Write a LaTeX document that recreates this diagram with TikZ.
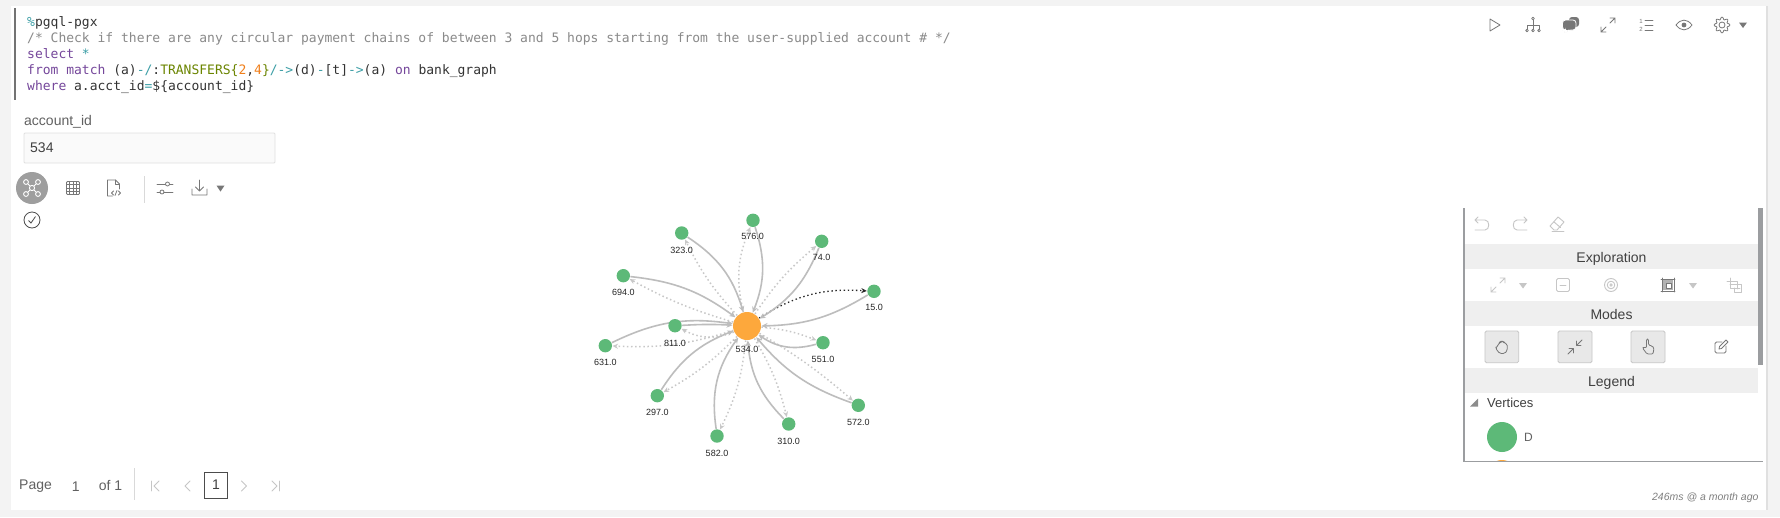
\documentclass[tikz,border=0pt]{standalone}
\usepackage{fontspec}
\setmainfont{Liberation Sans}
\newfontfamily\codefont[Ligatures=NoCommon]{DejaVu Sans Mono}
\usetikzlibrary{arrows.meta}
\usetikzlibrary{positioning}
\definecolor{pagebg}{HTML}{F3F3F3}
\definecolor{codedark}{HTML}{333333}
\definecolor{codegray}{HTML}{8A8A8A}
\definecolor{codepurple}{HTML}{75479B}
\definecolor{codeteal}{HTML}{3B9EA6}
\definecolor{codeolive}{HTML}{6B8500}
\definecolor{codeorange}{HTML}{F07F1B}
\definecolor{vgreen}{HTML}{5DB978}
\definecolor{vorange}{HTML}{FDA83C}
\definecolor{edgegray}{HTML}{BDBDBD}
\definecolor{dotgray}{HTML}{C8C8C8}
\definecolor{stripgray}{HTML}{EFEFEF}
\definecolor{framegray}{HTML}{9B9DA0}
\definecolor{icondark}{HTML}{777777}
\definecolor{iconlight}{HTML}{C6C6C6}
\tikzstyle{codeline} = [anchor=west, inner sep=0pt, font=\codefont\fontsize{13}{16}\selectfont, text=codedark, text height=10pt, text depth=3pt]
\tikzstyle{vertexD} = [circle, fill=vgreen, inner sep=0pt, outer sep=0.5pt, minimum size=13.4pt]
\tikzstyle{vertexA} = [circle, fill=vorange, inner sep=0pt, outer sep=0.5pt, minimum size=28pt]
\tikzstyle{vlabel} = [inner sep=0pt, font=\fontsize{9}{10}\selectfont, text=black!85]
\tikzstyle{edgesolid} = [draw=edgegray, line width=1.6pt, -{Stealth[length=6pt,width=5.5pt]}]
\tikzstyle{edgedot} = [draw=dotgray, line width=1.5pt, dash pattern=on 1.5pt off 2.6pt, -{Stealth[length=5.5pt,width=5pt]}]
\tikzstyle{edgeblack} = [draw=black!85, line width=1.3pt, dash pattern=on 1.4pt off 2.7pt, -{Stealth[length=5.5pt,width=5pt]}]
\tikzstyle{uitext} = [inner sep=0pt, font=\fontsize{14}{16}\selectfont, text=black!75]
\tikzstyle{striptext} = [uitext, text height=10pt, text depth=3pt]
\tikzstyle{graytext} = [inner sep=0pt, font=\fontsize{14}{16}\selectfont, text=black!62]
\tikzstyle{icon} = [draw=icondark, line width=0.8pt, line cap=round, line join=round]
\tikzstyle{iconpale} = [draw=iconlight, line width=0.9pt, line cap=round, line join=round]
\tikzstyle{modebtn} = [draw=iconlight, fill=black!9, rounded corners=1.5pt, line width=0.8pt]
\begin{document}
\begin{tikzpicture}[x=1pt,y=-1pt]
	\useasboundingbox (0,0) rectangle (1780,517);
	\fill[pagebg] (0,0) rectangle (1780,517);
	\fill[black!12] (1766,6) rectangle (1768,510);
	\fill[white] (11,6) rectangle (1766,510);
	\fill[black!55] (14,8) rectangle (15.5,100);

	\node [codeline] (line1) at (27,23) {\textcolor{codeteal}{\%}pgql-pgx};
	\node [codeline, text=codegray] (line2) at (27,39) {/* Check if there are any circular payment chains of between 3 and 5 hops starting from the user-supplied account \# */};
	\node [codeline] (line3) at (27,55) {\textcolor{codepurple}{select} \textcolor{codeteal}{*}};
	\node [codeline] (line4) at (27,71) {\textcolor{codepurple}{from match} (a)\textcolor{codeteal}{-/}:\textcolor{codeolive}{TRANSFERS\{}\textcolor{codeorange}{2},\textcolor{codeorange}{4}\textcolor{codeolive}{\}}\textcolor{codeteal}{/->}(d)\textcolor{codeteal}{-}[t]\textcolor{codeteal}{->}(a) \textcolor{codepurple}{on} bank\_graph};
	\node [codeline] (line5) at (27,87) {\textcolor{codepurple}{where} a.acct\_id\textcolor{codeteal}{=}\$\{account\_id\}};

	\node [graytext, anchor=west] (paramlabel) at (24,122) {account\_id};
	\node [draw=black!12, fill=black!2, line width=0.8pt, rounded corners=1pt, minimum width=251pt, minimum height=30pt, inner sep=0pt, outer sep=0pt] (parambox) at (149.5,148) {};
	\node [uitext, anchor=west] (paramvalue) at (30,148) {534};

	\fill[black!38] (32,188) circle [radius=16];
	\begin{scope}[shift={(32,188)}]
		\draw[white, line width=0.9pt] (-5.5,-5.5) -- (5.5,5.5) (5.5,-5.5) -- (-5.5,5.5);
		\draw[white, line width=0.9pt, fill=black!38] (-6,-6) circle [radius=2.4] (6,-6) circle [radius=2.4] (-6,6) circle [radius=2.4] (6,6) circle [radius=2.4] (0,0) circle [radius=2.6];
	\end{scope}
	\begin{scope}[shift={(73,188)}]
		\draw[icon, rounded corners=1pt] (-6.5,-6.5) rectangle (6.5,6.5);
		\draw[icon] (-3.25,-6.5) -- (-3.25,6.5) (0,-6.5) -- (0,6.5) (3.25,-6.5) -- (3.25,6.5) (-6.5,-3.25) -- (6.5,-3.25) (-6.5,0) -- (6.5,0) (-6.5,3.25) -- (6.5,3.25);
	\end{scope}
	\begin{scope}[shift={(113.5,188)}]
		\draw[icon] (-1,8) -- (-6,8) -- (-6,-8) -- (2,-8) -- (6,-4) -- (6,1);
		\draw[icon] (2,-8) -- (2,-4) -- (6,-4);
		\draw[icon] (0,3) -- (-2,5) -- (0,7) (5,3) -- (7,5) -- (5,7) (3.5,2.5) -- (1.5,7.5);
	\end{scope}
	\draw[black!15, line width=0.8pt] (144,176) -- (144,203);
	\begin{scope}[shift={(165,188)}]
		\draw[icon] (-8,-4) -- (0.5,-4) (4.5,-4) -- (8,-4) (-8,4) -- (-5,4) (-1,4) -- (8,4);
		\draw[icon] (2.5,-4) circle [radius=2] (-3,4) circle [radius=2];
	\end{scope}
	\begin{scope}[shift={(199.5,188)}]
		\draw[icon] (0,-8) -- (0,3) (-4,-1) -- (0,3) -- (4,-1) (-7.5,1) -- (-7.5,7) -- (7.5,7) -- (7.5,1);
	\end{scope}
	\fill[icondark] (216.5,185.5) -- (224.5,185.5) -- (220.5,191.5) -- cycle;
	\begin{scope}[shift={(32,220)}]
		\draw[black!70, line width=0.8pt] (0,0) circle [radius=8];
		\draw[black!70, line width=0.8pt] (-3.5,0.5) -- (-1,3) -- (3.5,-3.5);
	\end{scope}

	\begin{scope}[shift={(1495,25)}]
		\draw[icon] (-5,-6) -- (5,0) -- (-5,6) -- cycle;
	\end{scope}
	\begin{scope}[shift={(1533,25)}]
		\draw[icon] (0,-5) -- (0,4) (-6,4) -- (-6,0) -- (6,0) -- (6,4);
		\draw[icon] (0,-6.5) circle [radius=1.4] (-6,5.5) circle [radius=1.3] (0,5.5) circle [radius=1.3] (6,5.5) circle [radius=1.3];
	\end{scope}
	\begin{scope}[shift={(1571,25)}]
		\fill[icondark, rounded corners=3pt] (-2,-8) -- (8,-8) -- (8,2) -- (-2,2) -- cycle;
		\draw[white, fill=icondark, line width=0.8pt, rounded corners=3pt] (-8.5,-5) -- (5,-5) -- (5,5) -- (-3,5) -- (-6,8) -- (-5.5,5) -- (-8.5,5) -- cycle;
	\end{scope}
	\begin{scope}[shift={(1608,25)}]
		\draw[icon] (-7,7) -- (-2,2) (2,-2) -- (7,-7) (2,-7) -- (7,-7) -- (7,-2) (-7,2) -- (-7,7) -- (-2,7);
	\end{scope}
	\begin{scope}[shift={(1646,25)}]
		\draw[icon] (-1,-5) -- (7,-5) (-1,0) -- (7,0) (-1,5) -- (7,5);
		\node [inner sep=0pt, font=\fontsize{6}{6}\selectfont, text=icondark] (listone) at (-5,-4) {1};
		\node [inner sep=0pt, font=\fontsize{6}{6}\selectfont, text=icondark] (listtwo) at (-5,4) {2};
	\end{scope}
	\begin{scope}[shift={(1684,25)}]
		\draw[icon] (-8,0) .. controls (-3,-6.5) and (3,-6.5) .. (8,0) .. controls (3,6.5) and (-3,6.5) .. (-8,0) -- cycle;
		\fill[icondark] (0,0) circle [radius=2.4];
	\end{scope}
	\begin{scope}[shift={(1722,25)}]
		\draw[icon] plot[domain=0:360, samples=65, smooth] (\x:{6.7+1.2*cos(8*\x)}) -- cycle;
		\draw[icon] (0,0) circle [radius=3];
	\end{scope}
	\fill[icondark] (1739,22.5) -- (1747,22.5) -- (1743,28) -- cycle;

	\fill[framegray] (1463,208) rectangle (1465,462);
	\fill[framegray] (1463,460.5) rectangle (1763,462);
	\fill[framegray] (1758,208) rectangle (1763,365);
	\fill[stripgray] (1465,244) rectangle (1758,269);
	\fill[stripgray] (1465,301) rectangle (1758,325.7);
	\fill[stripgray] (1465,368) rectangle (1758,392.7);
	\node [striptext] (exploration) at (1611.5,258.7) {Exploration};
	\node [striptext] (modes) at (1611.5,315.5) {Modes};
	\node [striptext] (legend) at (1611.5,382.5) {Legend};

	\begin{scope}[shift={(1482,224)}]
		\draw[iconpale] (-4,-7) -- (-7,-4) -- (-4,-1) (-7,-4) -- (3,-4) .. controls (8,-4) and (8,6) .. (3,6) -- (-7,6);
	\end{scope}
	\begin{scope}[shift={(1520,224)}]
		\draw[iconpale] (4,-7) -- (7,-4) -- (4,-1) (7,-4) -- (-3,-4) .. controls (-8,-4) and (-8,6) .. (-3,6) -- (7,6);
	\end{scope}
	\begin{scope}[shift={(1557,224)}]
		\draw[iconpale] (-7,2) -- (1,-7) -- (7,-2) -- (0,6) -- (-3,6) -- cycle (-3,-2) -- (3.5,3.5) (-5,7.5) -- (7,7.5);
	\end{scope}

	\begin{scope}[shift={(1498,285)}]
		\draw[iconpale] (-7,7) -- (-2,2) (2,-2) -- (7,-7) (2,-7) -- (7,-7) -- (7,-2) (-7,2) -- (-7,7) -- (-2,7);
	\end{scope}
	\fill[iconlight] (1519,283) -- (1527,283) -- (1523,288.5) -- cycle;
	\begin{scope}[shift={(1563,285)}]
		\draw[iconpale, rounded corners=1.5pt] (-6.5,-6.5) rectangle (6.5,6.5);
		\draw[iconpale] (-3,0) -- (3,0);
	\end{scope}
	\begin{scope}[shift={(1611,285)}]
		\draw[iconpale] (0,0) circle [radius=6.5] (0,0) circle [radius=3.8] (0,0) circle [radius=1.2];
	\end{scope}
	\begin{scope}[shift={(1668,285)}]
		\fill[black!30] (-5,-5) rectangle (5,5);
		\draw[icon] (-7,-6) -- (7,-6) (-7,6) -- (7,6) (-6,-7) -- (-6,7) (6,-7) -- (6,7);
		\draw[icon, fill=white] (-2,-2) rectangle (3,3);
	\end{scope}
	\fill[iconlight] (1689,283) -- (1697,283) -- (1693,288.5) -- cycle;
	\begin{scope}[shift={(1734,285)}]
		\draw[iconpale] (-7,-4) -- (3,-4) -- (3,4) (-4,-7) -- (-4,3) -- (6,3) (-4,-1) -- (7,-1) -- (7,7) -- (0,7) -- (0,3);
	\end{scope}

	\draw[modebtn] (1485,331) rectangle (1518.7,362.7);
	\draw[modebtn] (1558,331) rectangle (1592,362.7);
	\draw[modebtn] (1631,331) rectangle (1665,362.7);
	\begin{scope}[shift={(1501.7,347.5)}]
		\draw[icon, rounded corners=1.5pt] (-5.5,-1) -- (-3,-2) -- (-3,-5) -- (-1,-5) -- (-0.5,-6.5) -- (2,-6) -- (2.5,-4.5) -- (5.5,-3.5) -- (5.5,3) -- (3,6) -- (-2,6) -- (-6,1) -- cycle;
	\end{scope}
	\begin{scope}[shift={(1575,347)}]
		\draw[icon] (2,-2) -- (7,-7) (1.5,-6) -- (1.5,-1.5) -- (6,-1.5) (-2,2) -- (-7,7) (-6,1.5) -- (-1.5,1.5) -- (-1.5,6);
	\end{scope}
	\begin{scope}[shift={(1648,347)}]
		\draw[icon, rounded corners=1.2pt] (-1.5,1) -- (-1.5,-8) -- (0.5,-8) -- (0.5,-2) -- (4,-1) -- (6,1) -- (5,7) -- (-1,7) -- (-5.5,1) -- (-4,0) -- cycle;
	\end{scope}
	\begin{scope}[shift={(1721,347)}]
		\draw[icon, rounded corners=1.5pt] (1,-5) -- (-6,-5) -- (-6,6) -- (5,6) -- (5,-1);
		\draw[icon] (-2,2) -- (-1.5,-0.5) -- (5,-7) -- (7,-5) -- (0.5,1.5) -- cycle;
	\end{scope}

	\fill[black!45] (1470,406.5) -- (1478,406.5) -- (1478,398.5) -- cycle;
	\node [inner sep=0pt, anchor=west, font=\fontsize{13}{15}\selectfont, text=black!75] (vertices) at (1487,403.3) {Vertices};
	\node [circle, fill=vgreen, inner sep=0pt, minimum size=30pt] (legendD) at (1502,437) {};
	\node [inner sep=0pt, anchor=west, font=\fontsize{12}{14}\selectfont, text=black!62] (legendDtext) at (1524,437.5) {D};
	\begin{scope}
		\clip (1480,455) rectangle (1530,460.5);
		\fill[vorange] (1502,475) circle [radius=15];
	\end{scope}

	\node [vertexA] (n534) at (747,326) {};
	\node [vertexD] (n576) at (753,220.3) {};
	\node [vertexD] (n323) at (681.7,233) {};
	\node [vertexD] (n74) at (821.7,241.3) {};
	\node [vertexD] (n694) at (623.3,275.7) {};
	\node [vertexD] (n15) at (874,291.3) {};
	\node [vertexD] (n551) at (823,342.7) {};
	\node [vertexD] (n631) at (605.3,345.7) {};
	\node [vertexD] (n297) at (657.3,395.7) {};
	\node [vertexD] (n572) at (858.3,405.3) {};
	\node [vertexD] (n310) at (788.7,424) {};
	\node [vertexD] (n582) at (717,436) {};

	\draw[edgesolid] (n631) to [bend left=17] (n534);
	\node [vertexD] (n811) at (675,325.7) {};

	\draw[edgedot] (n534) to [bend left=18] (n576);
	\draw[edgedot] (n534) to [bend left=8] (n323);
	\draw[edgedot] (n534) to [bend left=8] (n74);
	\draw[edgedot] (n534) to [bend left=6] (n694);
	\draw[edgeblack] (n534) to [bend left=18] (n15);
	\draw[edgedot] (n534) to [bend left=25] (n811);
	\draw[edgedot] (n534) to [bend left=8] (n551);
	\draw[edgedot] (n534) to [bend left=10] (n631);
	\draw[edgedot] (n534) to [bend left=8] (n297);
	\draw[edgedot] (n534) to [bend left=5] (n572);
	\draw[edgedot] (n534) to [bend left=8] (n310);
	\draw[edgedot] (n534) to [bend left=10] (n582);

	\draw[edgesolid] (n576) to [bend left=20] (n534);
	\draw[edgesolid] (n323) to [bend left=20] (n534);
	\draw[edgesolid] (n74) to [bend left=18] (n534);
	\draw[edgesolid] (n694) to [bend left=15] (n534);
	\draw[edgesolid] (n15) to [bend left=15] (n534);
	\draw[edgesolid] (n811) to [bend left=3] (n534);
	\draw[edgesolid] (n551) to [bend left=25] (n534);
	\draw[edgesolid] (n297) to [bend left=18] (n534);
	\draw[edgesolid] (n572) to [bend left=15] (n534);
	\draw[edgesolid] (n310) to [bend left=20] (n534);
	\draw[edgesolid] (n582) to [bend left=22] (n534);

	\node [vlabel] (lab534) at (747,349.7) {534.0};
	\node [vlabel] (lab576) at (752.7,236.7) {576.0};
	\node [vlabel] (lab323) at (681.7,250) {323.0};
	\node [vlabel] (lab74) at (821.7,257.7) {74.0};
	\node [vlabel] (lab694) at (623.3,292.7) {694.0};
	\node [vlabel] (lab15) at (874,307.7) {15.0};
	\node [vlabel] (lab811) at (675,343) {811.0};
	\node [vlabel] (lab551) at (823,359.7) {551.0};
	\node [vlabel] (lab631) at (605.3,362.3) {631.0};
	\node [vlabel] (lab297) at (657.3,412.7) {297.0};
	\node [vlabel] (lab572) at (858.3,422.7) {572.0};
	\node [vlabel] (lab310) at (788.7,441) {310.0};
	\node [vlabel] (lab582) at (717,453) {582.0};

	\node [graytext, anchor=west] (pagetext) at (19,486.5) {Page};
	\node [graytext] (pagenum) at (75.7,486.5) {1};
	\node [graytext, anchor=west] (pageof) at (98.7,485) {of 1};
	\draw[black!15, line width=0.8pt] (134,468) -- (134,500);
	\draw[iconpale] (151.5,481) -- (151.5,491) (159,481) -- (154,486) -- (159,491);
	\draw[iconpale] (190,481) -- (185,486) -- (190,491);
	\node [draw=black!70, line width=0.8pt, minimum width=23.7pt, minimum height=26pt, inner sep=0pt, uitext] (pagebox) at (215.9,485) {1};
	\draw[iconpale] (241.5,481) -- (246.5,486) -- (241.5,491);
	\draw[iconpale] (279.5,481) -- (279.5,491) (272,481) -- (277,486) -- (272,491);

	\node [inner sep=0pt, anchor=east, font=\fontsize{10.5}{12}\selectfont\itshape, text=black!50] (timing) at (1758.7,498) {246ms @ a month ago};
\end{tikzpicture}
\end{document}
